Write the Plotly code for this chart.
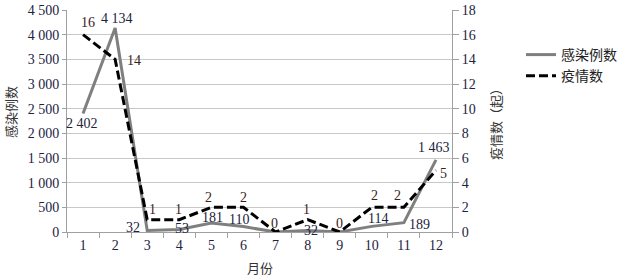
import plotly.graph_objects as go

months = ["1", "2", "3", "4", "5", "6", "7", "8", "9", "10", "11", "12"]
infections = [2402, 4134, 32, 53, 181, 110, 0, 32, 0, 114, 189, 1463]
infection_labels = ["2 402", "4 134", "32", "53", "181", "110", "", "32", "", "114", "189", "1 463"]
outbreaks = [16, 14, 1, 1, 2, 2, 0, 1, 0, 2, 2, 5]
outbreak_labels = ["16", "14", "1", "1", "2", "2", "0", "1", "0", "2", "2", "5"]
left_ticks = [0, 500, 1000, 1500, 2000, 2500, 3000, 3500, 4000, 4500]
left_tick_text = ["0", "500", "1 000", "1 500", "2 000", "2 500", "3 000", "3 500", "4 000", "4 500"]
right_ticks = [0, 2, 4, 6, 8, 10, 12, 14, 16, 18]

# label pixel offsets (style only)
inf_dx = [-1, 2, -14, 3, 1, -4, 0, 3, 0, 6, 16, -2]
inf_dy = [-10, 10, 3, 1, 6, 7, 0, 0, 0, 8, -2, 12]
out_dx = [5, 19, 5, -1, -3, 0, -1, -1, 0, 3, -6, 8]
out_dy = [12, -1, 10, 10, 10, 10, 9, 10, 9, 12, 12, -3]

SERIF = "Liberation Serif, Noto Sans CJK SC, serif"
L, R, T, B = 67, 452, 10, 232
W, H = 623, 277

fig = go.Figure()
fig.add_trace(go.Scatter(
    x=months, y=infections, name="感染例数", mode="lines",
    line=dict(color="#7f7f7f", width=3), cliponaxis=False,
))
fig.add_trace(go.Scatter(
    x=months, y=outbreaks, name="疫情数", mode="lines", yaxis="y2",
    line=dict(color="#000000", width=3, dash="9px,4px"), cliponaxis=False,
))

annotations = []
for i, (v, t, dx, dy) in enumerate(zip(infections, infection_labels, inf_dx, inf_dy)):
    if t:
        annotations.append(dict(x=i, y=v, xref="x", yref="y", text=t, showarrow=False,
                                xshift=dx, yshift=dy, xanchor="center", yanchor="middle",
                                font=dict(family=SERIF, size=14, color="#1c2340")))
for i, (v, t, dx, dy) in enumerate(zip(outbreaks, outbreak_labels, out_dx, out_dy)):
    annotations.append(dict(x=i, y=v, xref="x", yref="y2", text=t, showarrow=False,
                            xshift=dx, yshift=dy, xanchor="center", yanchor="middle",
                            font=dict(family=SERIF, size=14, color="#3a2418")))


def px(x, y):
    return (x - L) / (R - L), (B - y) / (B - T)


for text, (x0, y0), ang in [("感染例数", (11, 112), -90),
                            ("疫情数（起）", (496, 121), -90),
                            ("月份", (260, 268), 0)]:
    ax, ay = px(x0, y0)
    annotations.append(dict(text=text, x=ax, y=ay, xref="paper", yref="paper",
                            showarrow=False, textangle=ang, xanchor="center",
                            yanchor="middle",
                            font=dict(family=SERIF, size=13, color="#333333")))

lx, ly = px(521, 39)
fig.update_layout(
    width=W, height=H,
    margin=dict(l=L, r=W - R, t=T, b=H - B, autoexpand=False),
    paper_bgcolor="white", plot_bgcolor="white",
    font=dict(family=SERIF, size=14, color="#1c2340"),
    showlegend=True,
    legend=dict(x=lx, y=ly, xanchor="left", yanchor="top",
                font=dict(family=SERIF, size=14, color="#222222"),
                bgcolor="rgba(0,0,0,0)", tracegroupgap=4),
    xaxis=dict(type="category", categoryorder="array", categoryarray=months,
               range=[-0.5, 11.5], tickson="boundaries", ticks="outside", ticklen=5,
               tickcolor="#a0a0a0", showline=True, linecolor="#a0a0a0", linewidth=1,
               showgrid=False, zeroline=False, tickfont=dict(size=14), automargin=False),
    yaxis=dict(range=[0, 4500], tickvals=left_ticks, ticktext=left_tick_text,
               showgrid=True, gridcolor="#c8c8c8", gridwidth=1,
               showline=True, linecolor="#a0a0a0", ticks="outside", ticklen=4,
               tickcolor="#a0a0a0", zeroline=False, tickfont=dict(size=14), automargin=False),
    yaxis2=dict(range=[0, 18], tickvals=right_ticks, overlaying="y", side="right",
                showgrid=False, showline=True, linecolor="#a0a0a0", ticks="outside",
                ticklen=6, tickcolor="#a0a0a0", zeroline=False, tickfont=dict(size=14),
                automargin=False),
    annotations=annotations,
)

fig.write_html("out.html", post_script="document.body.style.margin='0';",
               config={"displayModeBar": False})
